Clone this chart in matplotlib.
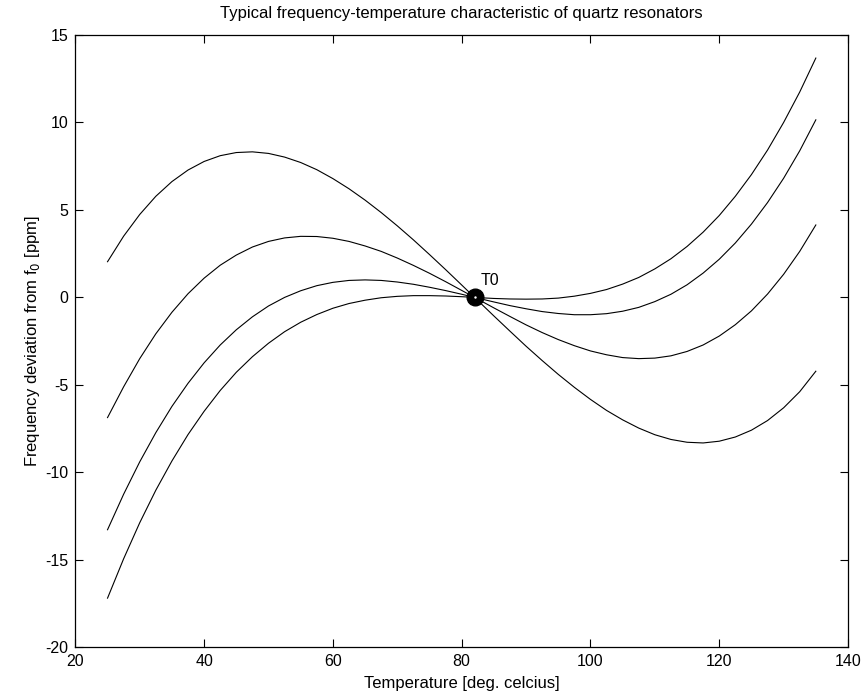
import matplotlib
matplotlib.use("Agg")
import matplotlib.pyplot as plt

plt.rcParams['font.family'] = ['Liberation Sans', 'DejaVu Sans']
plt.rcParams['axes.unicode_minus'] = False

# temperature samples [deg C] and frequency deviation [ppm]
temperature = [25, 27.5, 30, 32.5, 35, 37.5, 40, 42.5, 45, 47.5, 50, 52.5,
               55, 57.5, 60, 62.5, 65, 67.5, 70, 72.5, 75, 77.5, 80, 82,
               85, 87.5, 90, 92.5, 95, 97.5, 100, 102.5, 105, 107.5, 110,
               112.5, 115, 117.5, 120, 122.5, 125, 127.5, 130, 132.5, 135]
curve_a = [2.04, 3.50, 4.74, 5.78, 6.62, 7.28, 7.77, 8.10, 8.28, 8.32, 8.23, 8.02,
           7.71, 7.30, 6.79, 6.21, 5.56, 4.85, 4.09, 3.29, 2.45, 1.59, 0.71, 0.0,
           -1.06, -1.93, -2.79, -3.61, -4.40, -5.14, -5.83, -6.46, -7.00, -7.47, -7.85,
           -8.12, -8.28, -8.32, -8.22, -7.98, -7.59, -7.04, -6.31, -5.39, -4.22]
curve_b = [-6.87, -5.11, -3.50, -2.08, -0.85, 0.21, 1.10, 1.84, 2.42, 2.88, 3.20, 3.40,
           3.49, 3.48, 3.38, 3.20, 2.94, 2.63, 2.25, 1.83, 1.38, 0.90, 0.40, 0.0,
           -0.60, -1.09, -1.57, -2.01, -2.41, -2.76, -3.06, -3.28, -3.44, -3.50, -3.47,
           -3.34, -3.09, -2.72, -2.21, -1.56, -0.77, 0.19, 1.32, 2.63, 4.14]
curve_c = [-13.28, -11.25, -9.40, -7.73, -6.23, -4.91, -3.74, -2.72, -1.85, -1.11, -0.49, 0.00,
           0.38, 0.67, 0.86, 0.97, 1.00, 0.97, 0.88, 0.75, 0.58, 0.39, 0.18, 0.0,
           -0.26, -0.47, -0.65, -0.81, -0.92, -0.99, -0.99, -0.93, -0.79, -0.57, -0.24,
           0.18, 0.72, 1.39, 2.18, 3.11, 4.19, 5.42, 6.81, 8.38, 10.15]
curve_d = [-17.19, -14.94, -12.88, -11.02, -9.35, -7.84, -6.51, -5.32, -4.28, -3.39, -2.62, -1.96,
           -1.42, -0.98, -0.62, -0.35, -0.16, -0.02, 0.06, 0.10, 0.10, 0.08, 0.04, 0.0,
           -0.06, -0.09, -0.10, -0.09, -0.04, 0.07, 0.23, 0.45, 0.76, 1.14, 1.63,
           2.21, 2.91, 3.73, 4.68, 5.78, 7.02, 8.42, 10.00, 11.74, 13.68]

t0 = 82
x_ticks = [20, 40, 60, 80, 100, 120, 140]
y_ticks = [-20, -15, -10, -5, 0, 5, 10, 15]

fig = plt.figure(figsize=(8.64, 6.94), dpi=100)
ax = fig.add_axes([0.0872, 0.0673, 0.8943, 0.8823])

for curve in (curve_a, curve_b, curve_c, curve_d):
    ax.plot(temperature, curve, color='black', lw=0.8)

# turnover point marker
ax.plot([t0], [0], 'o', color='black', markersize=12)
ax.plot([t0], [0], '.', color='white', markersize=1.5)
ax.text(t0 + 1, 0.55, 'T0', fontsize=11.5, ha='left', va='bottom')

ax.set_xlim(20, 140)
ax.set_ylim(-20, 15)
ax.set_xticks(x_ticks)
ax.set_yticks(y_ticks)
ax.tick_params(direction='in', length=6, width=0.8, top=True, right=True,
               labelsize=11.5, pad=5)
for spine in ax.spines.values():
    spine.set_linewidth(0.9)

ax.set_title('Typical frequency-temperature characteristic of quartz resonators',
             fontsize=12, pad=12)
ax.set_xlabel('Temperature [deg. celcius]', fontsize=12, labelpad=5)
ax.set_ylabel('Frequency deviation from f$_0$ [ppm]', fontsize=12, labelpad=2)

fig.savefig('out.png', dpi=100)
